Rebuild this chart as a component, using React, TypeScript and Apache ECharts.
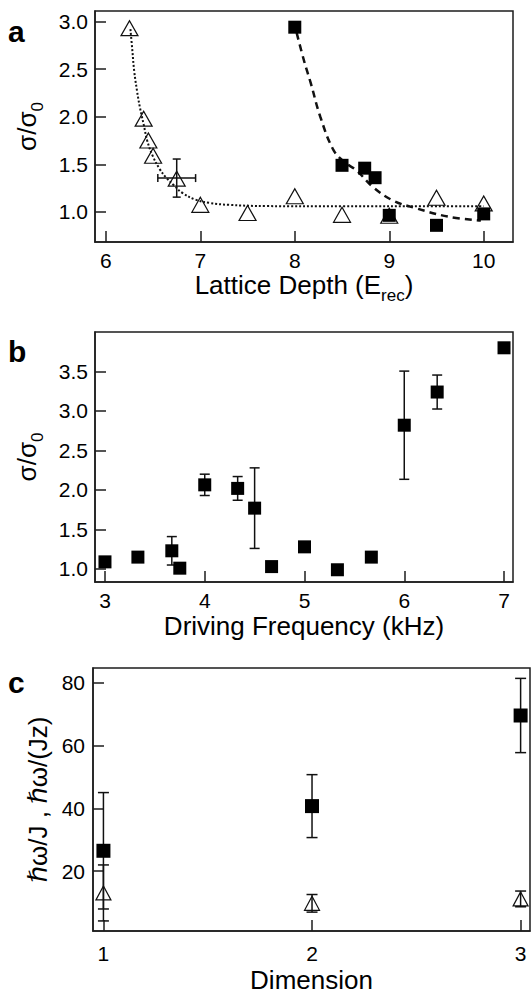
import React, { useEffect, useRef } from "react";
import * as echarts from "echarts";

// ---------- Panel a : Lattice depth ----------
const aXTicks = [6, 7, 8, 9, 10];
const aYTicks = [1.0, 1.5, 2.0, 2.5, 3.0];
const aTriX = [6.25, 6.4, 6.45, 6.5, 6.75, 7.0, 7.5, 8.0, 8.5, 9.0, 9.5, 10.0];
const aTriY = [2.93, 1.98, 1.75, 1.59, 1.35, 1.075, 0.99, 1.165, 0.97, 0.96, 1.15, 1.09];
const aSqX = [8.0, 8.5, 8.74, 8.85, 9.0, 9.5, 10.0];
const aSqY = [2.94, 1.49, 1.46, 1.36, 0.965, 0.86, 0.98];
// error bar on triangle at 6.75: [x, y, yErr, xErr]
const aErrX = [6.75];
const aErrY = [1.356];
const aErrYV = [0.2];
const aErrXV = [0.2];
// dotted fit through triangles
const aDotX = [6.26, 6.28, 6.3, 6.33, 6.36, 6.4, 6.44, 6.5, 6.57, 6.64, 6.72, 6.81, 6.95, 7.1, 7.3, 7.7, 8.5, 9.5, 10.0];
const aDotY = [2.92, 2.7, 2.48, 2.27, 2.1, 1.92, 1.74, 1.58, 1.45, 1.36, 1.28, 1.2, 1.13, 1.095, 1.075, 1.062, 1.06, 1.06, 1.06];
// dashed fit through squares
const aDashX = [8.02, 8.1, 8.17, 8.27, 8.41, 8.53, 8.65, 8.83, 9.04, 9.28, 9.63, 9.97];
const aDashY = [2.88, 2.58, 2.35, 2.0, 1.65, 1.52, 1.44, 1.26, 1.12, 1.04, 0.95, 0.91];

// ---------- Panel b : Driving frequency ----------
const bXTicks = [3, 4, 5, 6, 7];
const bYTicks = [1.0, 1.5, 2.0, 2.5, 3.0, 3.5];
const bX = [3.0, 3.33, 3.67, 3.75, 4.0, 4.33, 4.5, 4.67, 5.0, 5.33, 5.67, 6.0, 6.33, 7.0];
const bY = [1.09, 1.15, 1.23, 1.01, 2.065, 2.02, 1.77, 1.03, 1.28, 0.99, 1.15, 2.82, 3.24, 3.8];
const bErr = [0, 0, 0.18, 0, 0.135, 0.15, 0.51, 0, 0, 0, 0, 0.685, 0.215, 0];

// ---------- Panel c : Dimension ----------
const cXTicks = [1, 2, 3];
const cYTicks = [20, 40, 60, 80];
const cSqX = [1, 2, 3];
const cSqY = [26.5, 40.7, 69.5];
const cSqErr = [18.5, 10, 11.8];
const cTriX = [1, 2, 3];
const cTriY = [13.1, 9.8, 11.2];
const cTriErr = [8.9, 2.8, 2.5];

const FONT = '"Liberation Sans", Arial, "DejaVu Sans", sans-serif';
const INK = "#000";
const FRAME = "#1c1c1c";
const TICK_FS = 21;
const NAME_FS = 26;
const NAME_LH = 38;

const zip = (xs: number[], ys: number[]) => xs.map((x, i) => [x, ys[i]]);

function errRender(capW: number) {
  return (_params: any, api: any) => {
    const x = api.value(0);
    const y = api.value(1);
    const ey = api.value(2);
    const ex = api.value(3);
    const style = { stroke: "#111", lineWidth: 1.5, fill: null };
    const children: any[] = [];
    if (ey > 0) {
      const t = api.coord([x, y + ey]);
      const b = api.coord([x, y - ey]);
      children.push({ type: "line", shape: { x1: t[0], y1: t[1], x2: b[0], y2: b[1] }, style });
      children.push({ type: "line", shape: { x1: t[0] - capW / 2, y1: t[1], x2: t[0] + capW / 2, y2: t[1] }, style });
      children.push({ type: "line", shape: { x1: b[0] - capW / 2, y1: b[1], x2: b[0] + capW / 2, y2: b[1] }, style });
    }
    if (ex > 0) {
      const l = api.coord([x - ex, y]);
      const r = api.coord([x + ex, y]);
      children.push({ type: "line", shape: { x1: l[0], y1: l[1], x2: r[0], y2: r[1] }, style });
      children.push({ type: "line", shape: { x1: l[0], y1: l[1] - capW / 2, x2: l[0], y2: l[1] + capW / 2 }, style });
      children.push({ type: "line", shape: { x1: r[0], y1: r[1] - capW / 2, x2: r[0], y2: r[1] + capW / 2 }, style });
    }
    return { type: "group", children };
  };
}

const tickStyle = { show: true, inside: true, length: 11, lineStyle: { color: FRAME, width: 1.5 } };
const lineStyle = { show: true, lineStyle: { color: FRAME, width: 1.5 } };

const nameStyle = (size: number) => ({
  color: INK,
  fontSize: size,
  fontFamily: FONT,
  lineHeight: NAME_LH,
  rich: { sub: { fontSize: 17, lineHeight: 12, verticalAlign: "bottom", fontFamily: FONT, color: INK } },
});

function xAxis(gridIndex: number, min: number, max: number, ticks: number[], name: string, nameGap: number, margin: number): any {
  return {
    type: "value",
    gridIndex,
    min,
    max,
    splitLine: { show: false },
    axisLine: lineStyle,
    axisTick: { ...tickStyle, customValues: ticks },
    axisLabel: {
      customValues: ticks, color: INK, fontSize: TICK_FS, lineHeight: 16, fontFamily: FONT, margin,
      formatter: (v: number) => String(v),
    },
    name,
    nameLocation: "middle",
    nameGap,
    nameMoveOverlap: false,
    nameTextStyle: nameStyle(NAME_FS),
  };
}

function yAxis(gridIndex: number, min: number, max: number, ticks: number[], name: string, nameGap: number, margin: number, fmt: (v: number) => string): any {
  return {
    type: "value",
    gridIndex,
    min,
    max,
    splitLine: { show: false },
    axisLine: lineStyle,
    axisTick: { ...tickStyle, customValues: ticks },
    axisLabel: { customValues: ticks, color: INK, fontSize: TICK_FS, lineHeight: 16, fontFamily: FONT, margin, formatter: fmt },
    name,
    nameLocation: "middle",
    nameGap,
    nameMoveOverlap: false,
    nameTextStyle: nameStyle(NAME_FS),
  };
}

function buildOption(): any {
  const gridBase = { show: true, borderColor: FRAME, borderWidth: 1.5, backgroundColor: "transparent", containLabel: false };
  const triStyle = { color: "rgba(0,0,0,0)", borderColor: "#111", borderWidth: 1.2, opacity: 1 };
  const sqStyle = { color: "#000", opacity: 1 };

  const aErrData = aErrX.map((x, i) => [x, aErrY[i], aErrYV[i], aErrXV[i]]);
  const bErrData = bX.map((x, i) => [x, bY[i], bErr[i], 0]).filter((d) => d[2] > 0);
  const cSqErrData = cSqX.map((x, i) => [x, cSqY[i], cSqErr[i], 0]);
  const cTriErrData = cTriX.map((x, i) => [x, cTriY[i], cTriErr[i], 0]);

  return {
    animation: false,
    backgroundColor: "#fff",
    grid: [
      { ...gridBase, left: 88, top: 11, width: 425, height: 231 },
      { ...gridBase, left: 88, top: 332, width: 425, height: 250 },
      { ...gridBase, left: 93, top: 668, width: 437, height: 271 },
    ],
    xAxis: [
      xAxis(0, 5.885, 10.31, aXTicks, "Lattice Depth (E{sub|rec})", 24, 10),
      xAxis(1, 2.9, 7.09, bXTicks, "Driving Frequency (kHz)", 25, 10),
      xAxis(2, 0.95, 3.045, cXTicks, "Dimension", 30, 14),
    ],
    yAxis: [
      yAxis(0, 0.685, 3.11, aYTicks, "σ/σ{sub|0}", 49, 7, (v) => v.toFixed(1)),
      yAxis(1, 0.835, 4.0, bYTicks, "σ/σ{sub|0}", 49, 7, (v) => v.toFixed(1)),
      yAxis(2, 1.0, 84.6, cYTicks, "ℏω/J , ℏω/(Jz)", 36, 8, (v) => String(v)),
    ],
    graphic: [
      { type: "text", x: 8, y: 31, style: { text: "a", font: `bold 30px ${FONT}`, fill: "#000", textVerticalAlign: "middle" } },
      { type: "text", x: 8, y: 351, style: { text: "b", font: `bold 30px ${FONT}`, fill: "#000", textVerticalAlign: "middle" } },
      { type: "text", x: 8, y: 682, style: { text: "c", font: `bold 30px ${FONT}`, fill: "#000", textVerticalAlign: "middle" } },
    ],
    series: [
      // panel a
      {
        type: "line", xAxisIndex: 0, yAxisIndex: 0, data: zip(aDotX, aDotY), smooth: 0.4, showSymbol: false, symbol: "none",
        lineStyle: { color: "#111", width: 2, type: [2, 2] }, z: 3,
      },
      {
        type: "line", xAxisIndex: 0, yAxisIndex: 0, data: zip(aDashX, aDashY), smooth: 0.4, showSymbol: false, symbol: "none",
        lineStyle: { color: "#111", width: 2.5, type: [7, 5] }, z: 3,
      },
      {
        type: "scatter", xAxisIndex: 0, yAxisIndex: 0, data: zip(aTriX, aTriY), symbol: "triangle", symbolSize: [17, 15],
        itemStyle: triStyle, z: 2,
      },
      {
        type: "custom", xAxisIndex: 0, yAxisIndex: 0, data: aErrData, renderItem: errRender(8), encode: { x: 0, y: 1 }, z: 4,
      },
      {
        type: "scatter", xAxisIndex: 0, yAxisIndex: 0, data: zip(aSqX, aSqY), symbol: "rect", symbolSize: 13,
        itemStyle: sqStyle, z: 5,
      },
      // panel b
      {
        type: "custom", xAxisIndex: 1, yAxisIndex: 1, data: bErrData, renderItem: errRender(10), encode: { x: 0, y: 1 }, z: 2,
      },
      {
        type: "scatter", xAxisIndex: 1, yAxisIndex: 1, data: zip(bX, bY), symbol: "rect", symbolSize: 13,
        itemStyle: sqStyle, z: 3,
      },
      // panel c
      {
        type: "custom", xAxisIndex: 2, yAxisIndex: 2, data: cSqErrData, renderItem: errRender(11), encode: { x: 0, y: 1 }, z: 2,
      },
      {
        type: "custom", xAxisIndex: 2, yAxisIndex: 2, data: cTriErrData, renderItem: errRender(11), encode: { x: 0, y: 1 }, z: 2,
      },
      {
        type: "scatter", xAxisIndex: 2, yAxisIndex: 2, data: zip(cTriX, cTriY), symbol: "triangle", symbolSize: [15, 14],
        itemStyle: triStyle, z: 3,
      },
      {
        type: "scatter", xAxisIndex: 2, yAxisIndex: 2, data: zip(cSqX, cSqY), symbol: "rect", symbolSize: 14,
        itemStyle: sqStyle, z: 4,
      },
    ],
  };
}

export default function App() {
  const ref = useRef<HTMLDivElement>(null);
  useEffect(() => {
    if (!ref.current) return;
    const chart = echarts.init(ref.current, null, { renderer: "svg" });
    chart.setOption(buildOption());
    return () => chart.dispose();
  }, []);
  return (
    <div
      ref={ref}
      style={{ position: "absolute", left: 0, top: 0, width: 532, height: 1000, background: "#fff" }}
    />
  );
}
